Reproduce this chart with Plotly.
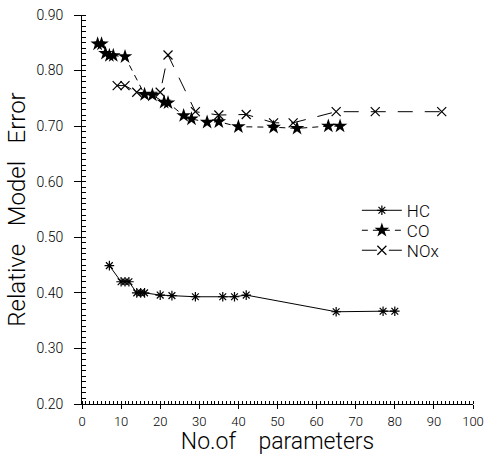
import plotly.graph_objects as go

# Data
hc_x = [7, 10, 11, 12, 14, 15, 16, 20, 23, 29, 36, 39, 42, 65, 77, 80]
hc_y = [0.449, 0.420, 0.420, 0.420, 0.400, 0.400, 0.400, 0.396, 0.395, 0.393,
        0.393, 0.393, 0.396, 0.366, 0.367, 0.367]

co_x = [4, 5, 6, 7, 8, 11, 16, 18, 21, 22, 26, 28, 32, 35, 40, 49, 55, 63, 66]
co_y = [0.848, 0.848, 0.831, 0.827, 0.827, 0.825, 0.757, 0.756, 0.743, 0.742,
        0.719, 0.713, 0.707, 0.708, 0.699, 0.698, 0.696, 0.700, 0.700]

nox_x = [9, 11, 14, 20, 22, 29, 35, 42, 49, 54, 65, 75, 92]
nox_y = [0.773, 0.773, 0.761, 0.761, 0.828, 0.726, 0.720, 0.721, 0.706, 0.706,
         0.726, 0.726, 0.726]

x_ticks = list(range(0, 101, 10))
y_ticks = [0.2, 0.3, 0.4, 0.5, 0.6, 0.7, 0.8, 0.9]

FONT = "Roboto"
NB = "\u00a0"

fig = go.Figure()
fig.add_trace(go.Scatter(
    x=hc_x, y=hc_y, name="HC", mode="lines+markers", legend="legend",
    line=dict(color="black", width=1),
    marker=dict(symbol="asterisk-open", size=8, color="black",
                line=dict(color="black", width=1.2)),
))
fig.add_trace(go.Scatter(
    x=co_x, y=co_y, name="CO", mode="lines+markers", legend="legend2",
    line=dict(color="black", width=1, dash="6px,5px"),
    marker=dict(symbol="star", size=11, color="black",
                line=dict(width=0)),
))
fig.add_trace(go.Scatter(
    x=nox_x, y=nox_y, name="NOx", mode="lines+markers", legend="legend3",
    line=dict(color="black", width=1, dash="15px,12px"),
    marker=dict(symbol="x-thin-open", size=9, color="black",
                line=dict(color="black", width=1.2)),
))

def leg(ycenter):
    return dict(x=0.703, y=ycenter, xanchor="left", yanchor="middle",
                font=dict(size=17, family=FONT, weight=300),
                bgcolor="rgba(0,0,0,0)", itemwidth=40)

fig.update_layout(
    width=486, height=455,
    margin=dict(l=82, r=13, t=15, b=51),
    paper_bgcolor="white", plot_bgcolor="white",
    font=dict(family=FONT, color="black", weight=300),
    showlegend=True,
    legend=leg(0.4968),
    legend2=leg(0.4455),
    legend3=leg(0.3941),
    xaxis=dict(
        range=[0, 100], tickvals=x_ticks, ticktext=[str(v) for v in x_ticks],
        showline=True, linecolor="black", linewidth=1,
        ticks="outside", ticklen=4, tickcolor="black", tickwidth=1,
        minor=dict(ticks="inside", dtick=1, ticklen=3, tickcolor="black", tickwidth=1),
        showgrid=False, zeroline=False, automargin=False,
        ticklabelstandoff=1,
        tickfont=dict(size=13, family=FONT, weight=300),
        title=dict(text=f"No.of{NB*4}parameters", font=dict(size=23, family=FONT, weight=300), standoff=5),
    ),
    yaxis=dict(
        range=[0.2, 0.9], tickvals=y_ticks, ticktext=[f"{v:.2f}" for v in y_ticks],
        showline=True, linecolor="black", linewidth=1,
        ticks="outside", ticklen=7, tickcolor="black", tickwidth=1,
        minor=dict(ticks="inside", dtick=0.01, ticklen=4, tickcolor="black", tickwidth=1),
        showgrid=False, zeroline=False, automargin=False,
        ticklabelstandoff=8,
        tickfont=dict(size=14, family=FONT, weight=300),
        title=dict(text=f"Relative{NB*3}Model{NB*3}Error", font=dict(size=24, family=FONT, weight=300), standoff=4),
    ),
)

fig.write_html("out.html")
